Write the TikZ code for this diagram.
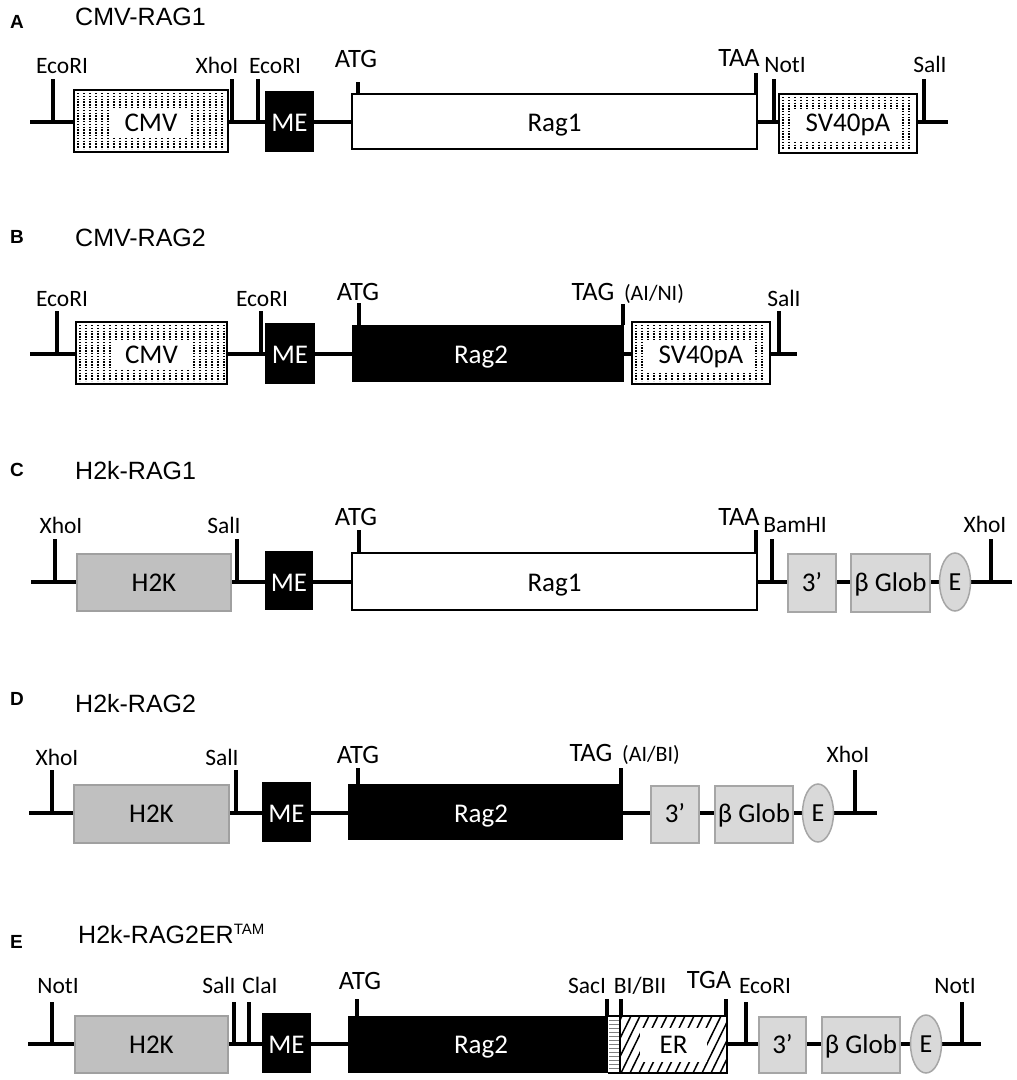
\documentclass[tikz,border=0pt]{standalone}
\usepackage{fontspec}
\setmainfont{Carlito}
\newfontfamily\arialfont{Liberation Sans}
\usetikzlibrary{shapes.geometric}
\begin{document}
\begin{tikzpicture}[x=1pt,y=-1pt,
  backbone/.style={line width=4pt},
  siteline/.style={line width=4pt},
  enz/.style={font=\fontsize{23.5}{23.5}\selectfont, anchor=base, inner sep=0pt},
  cod/.style={font=\fontsize{26.5}{26.5}\selectfont, anchor=base, inner sep=0pt},
  par/.style={font=\fontsize{22}{22}\selectfont, anchor=base, inner sep=0pt},
  boxtxt/.style={font=\fontsize{27}{27}\selectfont, anchor=base, inner sep=0pt},
  clear/.style={boxtxt, fill=white, inner xsep=12pt, inner ysep=5pt},
  title/.style={font=\arialfont\fontsize{25}{25}\selectfont, anchor=base west, inner sep=0pt},
  letter/.style={font=\arialfont\bfseries\fontsize{19}{19}\selectfont, anchor=base west, inner sep=0pt},
  dots/.style={line width=1.4pt, dash pattern=on 1.4pt off 1.4pt},
  h2kbox/.style={fill=h2kGrey, draw=h2kEdge, line width=1.8pt},
  globbox/.style={fill=globGrey, draw=globEdge, line width=1.8pt},
  enh/.style={ellipse, fill=globGrey, draw=globEdge, line width=1.5pt, minimum width=31pt, minimum height=58pt, inner sep=0pt, font=\fontsize{26}{26}\selectfont}
]

\definecolor{h2kGrey}{HTML}{c0c0c0}
\definecolor{h2kEdge}{HTML}{a0a0a0}
\definecolor{globGrey}{HTML}{d9d9d9}
\definecolor{globEdge}{HTML}{a6a6a6}
\definecolor{stripeGrey}{HTML}{808080}

\useasboundingbox (0,0) rectangle (1017,1080);

% A
\node[letter] (letA) at (10,28) {A};
\node[title] (titA) at (75,25) {CMV-RAG1};
\draw[backbone] (30,122) -- (948,122);
\fill[white] (74,90) rectangle (228,152);
\foreach \x in {78,84,...,224} \draw[dots] (\x,93) -- (\x,149);
\node[clear] (cmvA) at (151,131.5) {CMV};
\draw[line width=1.5pt] (74,90) rectangle (228,152);
\fill (265,91) rectangle (314,152);
\node[boxtxt, white] (meA) at (289.5,131.5) {ME};
\draw[line width=2pt, fill=white] (352,94) rectangle (757,149);
\node[boxtxt] (ragA) at (554.5,131.5) {Rag1};
\fill[white] (779,94) rectangle (917,153);
\foreach \x in {783,789,...,913} \draw[dots] (\x,97) -- (\x,150);
\node[clear] (svA) at (848,131.5) {SV40pA};
\draw[line width=1.5pt] (779,94) rectangle (917,153);
\foreach \x in {53,232,258,774,924} \draw[siteline] (\x,79) -- (\x,122);
\draw[siteline] (358,82) -- (358,94);
\draw[siteline] (756,73) -- (756,94);
\node[enz] (ecoA1) at (62,73) {EcoRI};
\node[enz] (xhoA) at (217,73) {XhoI};
\node[enz] (ecoA2) at (275,73) {EcoRI};
\node[cod] (atgA) at (356,67) {ATG};
\node[cod] (taaA) at (739,66) {TAA};
\node[enz] (notA) at (785,72) {NotI};
\node[enz] (salA) at (930,72) {SalI};

% B
\node[letter] (letB) at (10,243) {B};
\node[title] (titB) at (75,246) {CMV-RAG2};
\draw[backbone] (30,354) -- (797,354);
\fill[white] (76,322) rectangle (227,384);
\foreach \x in {80,86,...,224} \draw[dots] (\x,325) -- (\x,381);
\node[clear] (cmvB) at (151.5,363.5) {CMV};
\draw[line width=1.5pt] (76,322) rectangle (227,384);
\fill (265,323) rectangle (315,384);
\node[boxtxt, white] (meB) at (290,363.5) {ME};
\fill (352,325) rectangle (624,382);
\node[boxtxt, white] (ragB) at (481,363.5) {Rag2};
\fill[white] (632,322) rectangle (770,384);
\foreach \x in {636,642,...,766} \draw[dots] (\x,325) -- (\x,381);
\node[clear] (svB) at (701,363.5) {SV40pA};
\draw[line width=1.5pt] (632,322) rectangle (770,384);
\foreach \x in {57,261,779} \draw[siteline] (\x,311) -- (\x,354);
\draw[siteline] (359,303) -- (359,325);
\draw[siteline] (623,304) -- (623,325);
\node[enz] (ecoB1) at (62,306) {EcoRI};
\node[enz] (ecoB2) at (262,306) {EcoRI};
\node[cod] (atgB) at (358,300) {ATG};
\node[cod] (tagB) at (593,300) {TAG};
\node[par] (aiB) at (654,300) {(AI/NI)};
\node[enz] (salB) at (784,306) {SalI};

% C
\node[letter] (letC) at (10,476) {C};
\node[title] (titC) at (75,479) {H2k-RAG1};
\draw[backbone] (31,582) -- (1012,582);
\draw[h2kbox] (77,554) rectangle (231,611);
\node[boxtxt] (h2kC) at (154,591.5) {H2K};
\fill (265,551) rectangle (313,610);
\node[boxtxt, white] (meC) at (289,591.5) {ME};
\draw[line width=2pt, fill=white] (352,553) rectangle (757,610);
\node[boxtxt] (ragC) at (554.5,591.5) {Rag1};
\draw[globbox] (788,554) rectangle (836,612);
\node[boxtxt] (utrC) at (812,591.5) {3’};
\draw[globbox] (851,554) rectangle (930,612);
\node[boxtxt] (globC) at (890.5,591.5) {β Glob};
\node[enh] (enhC) at (955,582) {E};
\foreach \x in {55,237,772,991} \draw[siteline] (\x,539) -- (\x,582);
\draw[siteline] (359,530) -- (359,553);
\draw[siteline] (756,530) -- (756,553);
\node[enz] (xhoC1) at (61,533) {XhoI};
\node[enz] (salC) at (224,533) {SalI};
\node[cod] (atgC) at (356,525) {ATG};
\node[cod] (taaC) at (739,525) {TAA};
\node[enz] (bamC) at (795,532) {BamHI};
\node[enz] (xhoC2) at (985,532) {XhoI};

% D
\node[letter] (letD) at (10,705) {D};
\node[title] (titD) at (75,712) {H2k-RAG2};
\draw[backbone] (29,813) -- (877,813);
\draw[h2kbox] (74,785) rectangle (229,843);
\node[boxtxt] (h2kD) at (151.5,822.5) {H2K};
\fill (262,782) rectangle (311,842);
\node[boxtxt, white] (meD) at (286.5,822.5) {ME};
\fill (348,784) rectangle (623,840);
\node[boxtxt, white] (ragD) at (481,822.5) {Rag2};
\draw[globbox] (651,786) rectangle (699,843);
\node[boxtxt] (utrD) at (675,822.5) {3’};
\draw[globbox] (715,786) rectangle (793,843);
\node[boxtxt] (globD) at (754,822.5) {β Glob};
\node[enh] (enhD) at (818,813) {E};
\foreach \x in {52,236,855} \draw[siteline] (\x,770) -- (\x,813);
\draw[siteline] (358,768) -- (358,784);
\draw[siteline] (621,768) -- (621,784);
\node[enz] (xhoD1) at (57,765) {XhoI};
\node[enz] (salD) at (222,765) {SalI};
\node[cod] (atgD) at (358,763) {ATG};
\node[cod] (tagD) at (591,761) {TAG};
\node[par] (aiD) at (651,761) {(AI/BI)};
\node[enz] (xhoD2) at (848,762) {XhoI};

% E
\node[letter] (letE) at (10,948) {E};
\node[title] (titE) at (78,943) {H2k-RAG2ER{\fontsize{15}{15}\selectfont\raisebox{9pt}{TAM}}};
\draw[backbone] (28,1044) -- (981,1044);
\draw[h2kbox] (75,1016) rectangle (228,1073);
\node[boxtxt] (h2kE) at (151.5,1053.5) {H2K};
\fill (262,1013) rectangle (311,1073);
\node[boxtxt, white] (meE) at (286.5,1053.5) {ME};
\fill (348,1016) rectangle (608,1073);
\node[boxtxt, white] (ragE) at (481,1053.5) {Rag2};
\fill[white] (608,1016) rectangle (620,1073);
\foreach \y in {1020,1024,...,1070} \draw[stripeGrey, line width=1pt] (609,\y) -- (619,\y);
\begin{scope}
\clip (620,1016) rectangle (727,1073);
\fill[white] (620,1016) rectangle (727,1073);
\foreach \x in {594,603,...,730} \draw[line width=1.5pt] (\x,1073) -- (\x+28,1016);
\end{scope}
\node[boxtxt, fill=white, inner xsep=20pt, inner ysep=8pt] (erE) at (673.5,1053.5) {ER};
\draw[line width=2pt] (620,1016) rectangle (727,1073);
\draw[line width=1.5pt] (608,1016) -- (620,1016) (608,1073) -- (620,1073);
\draw[globbox] (759,1017) rectangle (806,1073);
\node[boxtxt] (utrE) at (782.5,1053.5) {3’};
\draw[globbox] (822,1017) rectangle (900,1073);
\node[boxtxt] (globE) at (861,1053.5) {β Glob};
\node[enh] (enhE) at (926,1044) {E};
\foreach \x in {52,234,249,746,962} \draw[siteline] (\x,1002) -- (\x,1044);
\foreach \x in {357,607,621,726} \draw[siteline] (\x,999) -- (\x,1016);
\node[enz] (notE1) at (58,993) {NotI};
\node[enz] (salE) at (219,993) {SalI};
\node[enz] (claE) at (260,993) {ClaI};
\node[cod] (atgE) at (360,989) {ATG};
\node[enz] (sacE) at (587,993) {SacI};
\node[enz] (bbE) at (640,993) {BI/BII};
\node[cod] (tgaE) at (709,988) {TGA};
\node[enz] (ecoE) at (765,993) {EcoRI};
\node[enz] (notE2) at (955,993) {NotI};
\end{tikzpicture}
\end{document}
